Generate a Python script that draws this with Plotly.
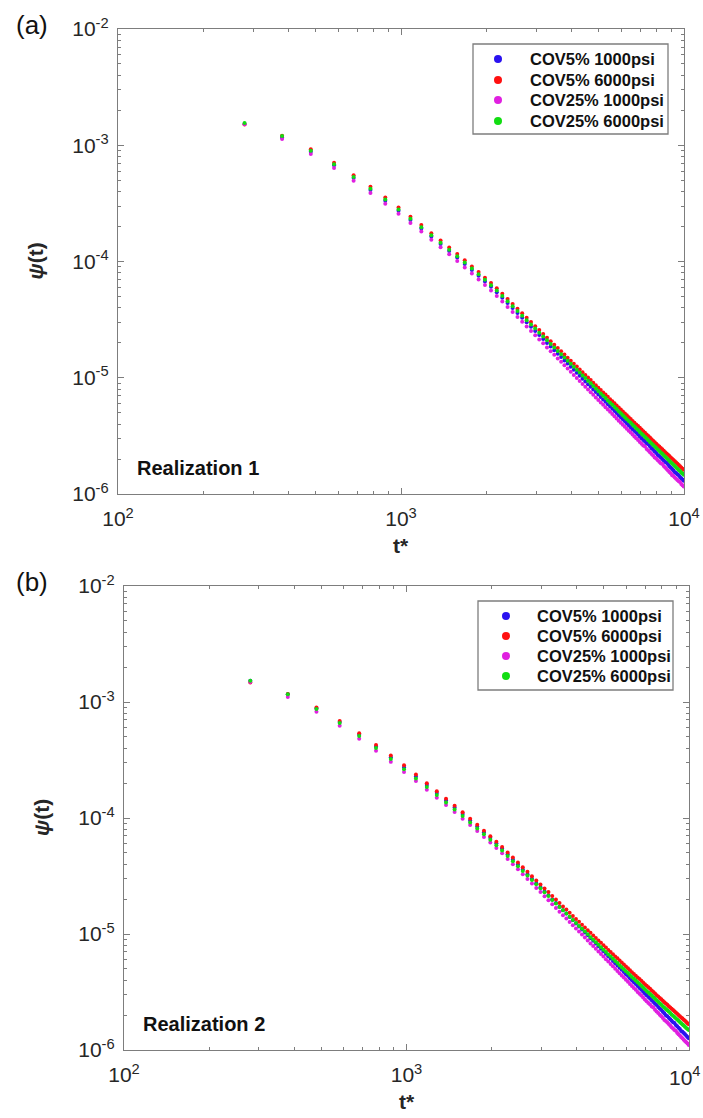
import plotly.graph_objects as go

# dimensionless time grid shared by every series
t_star = list(range(280, 10000, 100))

series_names = ["COV5% 1000psi", "COV5% 6000psi", "COV25% 1000psi", "COV25% 6000psi"]
series_colors = ["#2a12f0", "#ff1010", "#e020e0", "#12dd12"]

# log10 psi(t), realization 1
r1_cov5_1000 = [
    -2.817, -2.933, -3.055, -3.173, -3.282, -3.384, -3.477, -3.563, -3.642, -3.716,
    -3.785, -3.849, -3.909, -3.966, -4.021, -4.073, -4.123, -4.171, -4.218, -4.264,
    -4.312, -4.358, -4.401, -4.443, -4.484, -4.523, -4.561, -4.597, -4.632, -4.666,
    -4.700, -4.731, -4.763, -4.793, -4.822, -4.851, -4.878, -4.906, -4.932, -4.958,
    -4.983, -5.008, -5.032, -5.055, -5.078, -5.101, -5.123, -5.145, -5.166, -5.187,
    -5.207, -5.227, -5.247, -5.266, -5.285, -5.303, -5.322, -5.340, -5.357, -5.375,
    -5.392, -5.409, -5.425, -5.442, -5.458, -5.474, -5.489, -5.505, -5.520, -5.535,
    -5.549, -5.564, -5.573, -5.589, -5.607, -5.620, -5.634, -5.647, -5.665, -5.674,
    -5.687, -5.699, -5.712, -5.725, -5.732, -5.745, -5.761, -5.773, -5.785, -5.797,
    -5.813, -5.820, -5.831, -5.838, -5.853, -5.864, -5.875, -5.886]
r1_cov5_6000 = [
    -2.822, -2.919, -3.035, -3.150, -3.257, -3.358, -3.450, -3.535, -3.614, -3.687,
    -3.756, -3.819, -3.879, -3.935, -3.990, -4.042, -4.091, -4.139, -4.185, -4.231,
    -4.278, -4.323, -4.365, -4.406, -4.446, -4.484, -4.521, -4.556, -4.590, -4.623,
    -4.655, -4.685, -4.716, -4.745, -4.773, -4.801, -4.827, -4.854, -4.879, -4.904,
    -4.928, -4.952, -4.976, -4.998, -5.020, -5.043, -5.064, -5.085, -5.106, -5.126,
    -5.145, -5.164, -5.184, -5.202, -5.220, -5.238, -5.256, -5.273, -5.290, -5.307,
    -5.323, -5.340, -5.355, -5.371, -5.387, -5.402, -5.416, -5.431, -5.446, -5.460,
    -5.473, -5.488, -5.501, -5.515, -5.529, -5.541, -5.554, -5.567, -5.580, -5.592,
    -5.605, -5.616, -5.628, -5.640, -5.652, -5.663, -5.674, -5.686, -5.697, -5.708,
    -5.719, -5.730, -5.740, -5.751, -5.761, -5.771, -5.782, -5.792]
r1_cov25_1000 = [
    -2.820, -2.947, -3.075, -3.195, -3.306, -3.410, -3.503, -3.589, -3.669, -3.743,
    -3.813, -3.877, -3.938, -3.995, -4.051, -4.103, -4.154, -4.202, -4.250, -4.296,
    -4.345, -4.391, -4.435, -4.478, -4.519, -4.559, -4.598, -4.634, -4.670, -4.704,
    -4.739, -4.771, -4.803, -4.834, -4.863, -4.893, -4.921, -4.949, -4.976, -5.002,
    -5.028, -5.054, -5.078, -5.101, -5.124, -5.147, -5.169, -5.191, -5.212, -5.233,
    -5.253, -5.273, -5.293, -5.312, -5.331, -5.350, -5.369, -5.387, -5.404, -5.422,
    -5.439, -5.456, -5.472, -5.489, -5.505, -5.521, -5.536, -5.552, -5.567, -5.583,
    -5.592, -5.612, -5.626, -5.641, -5.655, -5.668, -5.687, -5.695, -5.709, -5.722,
    -5.735, -5.741, -5.760, -5.773, -5.786, -5.798, -5.810, -5.822, -5.838, -5.846,
    -5.857, -5.869, -5.880, -5.891, -5.897, -5.913, -5.924, -5.935]
r1_cov25_6000 = [
    -2.809, -2.921, -3.047, -3.164, -3.273, -3.374, -3.467, -3.553, -3.632, -3.705,
    -3.774, -3.838, -3.898, -3.954, -4.009, -4.061, -4.110, -4.158, -4.204, -4.249,
    -4.297, -4.342, -4.385, -4.426, -4.466, -4.505, -4.542, -4.577, -4.612, -4.645,
    -4.678, -4.709, -4.740, -4.770, -4.798, -4.826, -4.853, -4.880, -4.905, -4.931,
    -4.955, -4.980, -5.003, -5.026, -5.048, -5.071, -5.093, -5.114, -5.135, -5.155,
    -5.175, -5.195, -5.214, -5.233, -5.251, -5.269, -5.288, -5.305, -5.322, -5.339,
    -5.356, -5.373, -5.388, -5.405, -5.420, -5.436, -5.450, -5.466, -5.481, -5.495,
    -5.509, -5.523, -5.537, -5.552, -5.565, -5.578, -5.591, -5.604, -5.618, -5.630,
    -5.643, -5.654, -5.667, -5.680, -5.691, -5.703, -5.714, -5.726, -5.738, -5.749,
    -5.760, -5.771, -5.782, -5.793, -5.803, -5.814, -5.824, -5.835]

# log10 psi(t), realization 2
r2_cov5_1000 = [
    -2.817, -2.933, -3.055, -3.173, -3.282, -3.384, -3.477, -3.563, -3.642, -3.716,
    -3.785, -3.849, -3.909, -3.966, -4.021, -4.073, -4.123, -4.171, -4.218, -4.264,
    -4.312, -4.358, -4.401, -4.443, -4.485, -4.524, -4.562, -4.598, -4.633, -4.667,
    -4.702, -4.733, -4.765, -4.795, -4.824, -4.853, -4.881, -4.909, -4.935, -4.961,
    -4.986, -5.011, -5.036, -5.059, -5.082, -5.105, -5.127, -5.149, -5.171, -5.192,
    -5.212, -5.232, -5.252, -5.271, -5.291, -5.309, -5.328, -5.346, -5.363, -5.381,
    -5.399, -5.416, -5.432, -5.449, -5.465, -5.481, -5.497, -5.513, -5.528, -5.543,
    -5.557, -5.572, -5.587, -5.602, -5.611, -5.629, -5.643, -5.656, -5.671, -5.684,
    -5.701, -5.709, -5.722, -5.735, -5.748, -5.760, -5.767, -5.784, -5.796, -5.808,
    -5.820, -5.836, -5.843, -5.854, -5.865, -5.877, -5.888, -5.899]
r2_cov5_6000 = [
    -2.832, -2.930, -3.048, -3.163, -3.270, -3.370, -3.461, -3.546, -3.625, -3.700,
    -3.769, -3.833, -3.894, -3.951, -4.006, -4.058, -4.109, -4.157, -4.204, -4.250,
    -4.297, -4.341, -4.383, -4.424, -4.464, -4.502, -4.538, -4.573, -4.607, -4.639,
    -4.673, -4.703, -4.733, -4.762, -4.789, -4.817, -4.844, -4.870, -4.895, -4.920,
    -4.943, -4.967, -4.990, -5.012, -5.034, -5.055, -5.076, -5.097, -5.117, -5.137,
    -5.155, -5.174, -5.193, -5.210, -5.229, -5.246, -5.263, -5.280, -5.296, -5.312,
    -5.329, -5.344, -5.359, -5.375, -5.389, -5.404, -5.419, -5.433, -5.447, -5.460,
    -5.473, -5.487, -5.500, -5.514, -5.527, -5.538, -5.551, -5.563, -5.576, -5.588,
    -5.599, -5.610, -5.622, -5.633, -5.645, -5.656, -5.666, -5.677, -5.687, -5.698,
    -5.709, -5.719, -5.729, -5.739, -5.748, -5.759, -5.769, -5.778]
r2_cov25_1000 = [
    -2.827, -2.956, -3.083, -3.205, -3.317, -3.421, -3.516, -3.603, -3.682, -3.756,
    -3.825, -3.889, -3.949, -4.006, -4.061, -4.113, -4.163, -4.211, -4.258, -4.304,
    -4.353, -4.399, -4.442, -4.484, -4.526, -4.565, -4.603, -4.639, -4.675, -4.709,
    -4.744, -4.775, -4.808, -4.838, -4.867, -4.896, -4.924, -4.953, -4.979, -5.005,
    -5.030, -5.056, -5.081, -5.104, -5.127, -5.151, -5.173, -5.195, -5.217, -5.238,
    -5.259, -5.279, -5.299, -5.318, -5.339, -5.357, -5.376, -5.394, -5.412, -5.430,
    -5.448, -5.465, -5.481, -5.499, -5.515, -5.531, -5.547, -5.564, -5.579, -5.594,
    -5.608, -5.624, -5.634, -5.654, -5.668, -5.681, -5.696, -5.709, -5.724, -5.742,
    -5.751, -5.763, -5.776, -5.789, -5.803, -5.815, -5.827, -5.834, -5.851, -5.864,
    -5.876, -5.888, -5.899, -5.911, -5.922, -5.934, -5.945, -5.957]
r2_cov25_6000 = [
    -2.817, -2.933, -3.060, -3.181, -3.293, -3.397, -3.492, -3.580, -3.659, -3.733,
    -3.802, -3.866, -3.926, -3.983, -4.038, -4.090, -4.140, -4.188, -4.235, -4.281,
    -4.328, -4.373, -4.415, -4.456, -4.496, -4.534, -4.571, -4.606, -4.640, -4.673,
    -4.707, -4.736, -4.767, -4.796, -4.824, -4.852, -4.879, -4.906, -4.931, -4.955,
    -4.979, -5.003, -5.027, -5.049, -5.071, -5.093, -5.114, -5.135, -5.156, -5.176,
    -5.194, -5.213, -5.232, -5.250, -5.269, -5.286, -5.304, -5.321, -5.337, -5.354,
    -5.371, -5.386, -5.401, -5.417, -5.432, -5.447, -5.462, -5.477, -5.491, -5.505,
    -5.518, -5.531, -5.545, -5.559, -5.572, -5.584, -5.597, -5.609, -5.623, -5.635,
    -5.647, -5.658, -5.669, -5.681, -5.693, -5.704, -5.715, -5.726, -5.737, -5.748,
    -5.759, -5.770, -5.780, -5.789, -5.799, -5.810, -5.820, -5.828]

x_tick_vals = [100, 1000, 10000]
x_tick_text = ["10<sup>2</sup>", "10<sup>3</sup>", "10<sup>4</sup>"]
y_tick_vals = [1e-6, 1e-5, 1e-4, 1e-3, 1e-2]
y_tick_text = ["10<sup>-6</sup>", "10<sup>-5</sup>", "10<sup>-4</sup>",
               "10<sup>-3</sup>", "10<sup>-2</sup>"]
panel_tags = ["(a)", "(b)"]
panel_notes = ["Realization 1", "Realization 2"]

W, H = 703, 1118
FONT = "Arial, Liberation Sans, sans-serif"
INK = "#262626"
AXIS_GREY = "#7d7d7d"

# plot boxes in pixels: left, right, top, bottom
boxes = [(118, 684, 29, 494), (124, 689, 586, 1050)]
# legend boxes in pixels: left, right, top, bottom, symbol x, text x, row ys
legend_boxes = [
    (473, 668, 44, 134, 498, 528, [59, 80, 100, 121]),
    (478, 673, 601, 690, 506, 535, [616, 636, 656, 676]),
]


def px_x(p):
    return p / W


def px_y(p):
    return 1 - p / H


fig = go.Figure()

panels = [
    ([r1_cov5_1000, r1_cov5_6000, r1_cov25_1000, r1_cov25_6000], "x", "y"),
    ([r2_cov5_1000, r2_cov5_6000, r2_cov25_1000, r2_cov25_6000], "x2", "y2"),
]

for logs, xa, ya in panels:
    for name, color, vals in zip(series_names, series_colors, logs):
        fig.add_trace(go.Scatter(
            x=t_star, y=[10 ** v for v in vals], mode="markers", name=name,
            xaxis=xa, yaxis=ya, showlegend=False,
            marker=dict(color=color, size=4, line=dict(width=0)),
        ))

minor_x = [m * 10 ** e for e in (2, 3) for m in range(2, 10)]
minor_y = [m * 10.0 ** e for e in (-6, -5, -4, -3) for m in range(2, 10)]

axis_common = dict(
    type="log", showgrid=False, zeroline=False, showline=True,
    linecolor=AXIS_GREY, linewidth=1.3, mirror="allticks",
    ticks="inside", ticklen=6, tickwidth=1, tickcolor=AXIS_GREY,
    tickfont=dict(family=FONT, size=21, color=INK),
)

layout_axes = {}
for k, (l, r, t, b) in enumerate(boxes):
    sfx = "" if k == 0 else "2"
    # the lower panel reaches the page edge: its last x label is set by hand
    x_text = x_tick_text if k == 0 else x_tick_text[:-1] + [""]
    layout_axes["xaxis" + sfx] = dict(
        axis_common, domain=[px_x(l), px_x(r)], range=[2, 4],
        anchor="y" + sfx, tickvals=x_tick_vals, ticktext=x_text,
        ticklabelstandoff=6,
        minor=dict(tickvals=minor_x, ticks="inside", ticklen=3,
                   tickcolor=AXIS_GREY, showgrid=False),
    )
    layout_axes["yaxis" + sfx] = dict(
        axis_common, domain=[px_y(b), px_y(t)], range=[-6, -2],
        anchor="x" + sfx, tickvals=y_tick_vals, ticktext=y_tick_text,
        ticklabelstandoff=4,
        minor=dict(tickvals=minor_y, ticks="inside", ticklen=3,
                   tickcolor=AXIS_GREY, showgrid=False),
    )

annotations = []
shapes = []
for k, (l, r, t, b) in enumerate(boxes):
    annotations.append(dict(
        text=panel_tags[k], x=px_x(32), y=px_y(t - 4), xref="paper",
        yref="paper", xanchor="center", yanchor="middle", showarrow=False,
        font=dict(family=FONT, size=26, color="#111111"),
    ))
    annotations.append(dict(
        text="<b>" + panel_notes[k] + "</b>", x=px_x(l + 17), y=px_y(b - 26),
        xref="paper", yref="paper", xanchor="left", yanchor="middle",
        showarrow=False, font=dict(family=FONT, size=20, color="#111111"),
    ))
    annotations.append(dict(
        text="<b><i>ψ</i>(t)</b>", x=px_x(l - 83), y=px_y((t + b) / 2),
        xref="paper", yref="paper", xanchor="center", yanchor="middle",
        textangle=-90, showarrow=False,
        font=dict(family=FONT, size=21, color=INK),
    ))
    annotations.append(dict(
        text="<b>t*</b>", x=px_x((l + r) / 2), y=px_y(b + 51),
        xref="paper", yref="paper", xanchor="center", yanchor="middle",
        showarrow=False, font=dict(family=FONT, size=21, color=INK),
    ))

# last x label of the lower panel, kept inside the page
l2, r2, t2, b2 = boxes[1]
annotations.append(dict(
    text=x_tick_text[-1], x=px_x(702), y=px_y(b2 + 26),
    xref="paper", yref="paper", xanchor="right", yanchor="middle",
    showarrow=False, borderpad=0,
    font=dict(family=FONT, size=21, color=INK),
))

# boxed legends with round symbols
for (bl, br, bt, bb, sx, tx, rows) in legend_boxes:
    shapes.append(dict(
        type="rect", xref="paper", yref="paper",
        x0=px_x(bl), x1=px_x(br), y0=px_y(bb), y1=px_y(bt),
        line=dict(color=AXIS_GREY, width=1.3), fillcolor="white",
    ))
    for name, color, ry in zip(series_names, series_colors, rows):
        shapes.append(dict(
            type="circle", xref="paper", yref="paper",
            x0=px_x(sx - 4), x1=px_x(sx + 4), y0=px_y(ry + 4), y1=px_y(ry - 4),
            line=dict(width=0), fillcolor=color,
        ))
        annotations.append(dict(
            text="<b>" + name + "</b>", x=px_x(tx), y=px_y(ry),
            xref="paper", yref="paper", xanchor="left", yanchor="middle",
            showarrow=False, font=dict(family=FONT, size=16.5, color="#111111"),
        ))

fig.update_layout(
    width=W, height=H,
    margin=dict(l=0, r=0, t=0, b=0, autoexpand=False),
    paper_bgcolor="white", plot_bgcolor="white",
    showlegend=False,
    annotations=annotations,
    shapes=shapes,
    **layout_axes,
)

fig.write_html("out.html")
